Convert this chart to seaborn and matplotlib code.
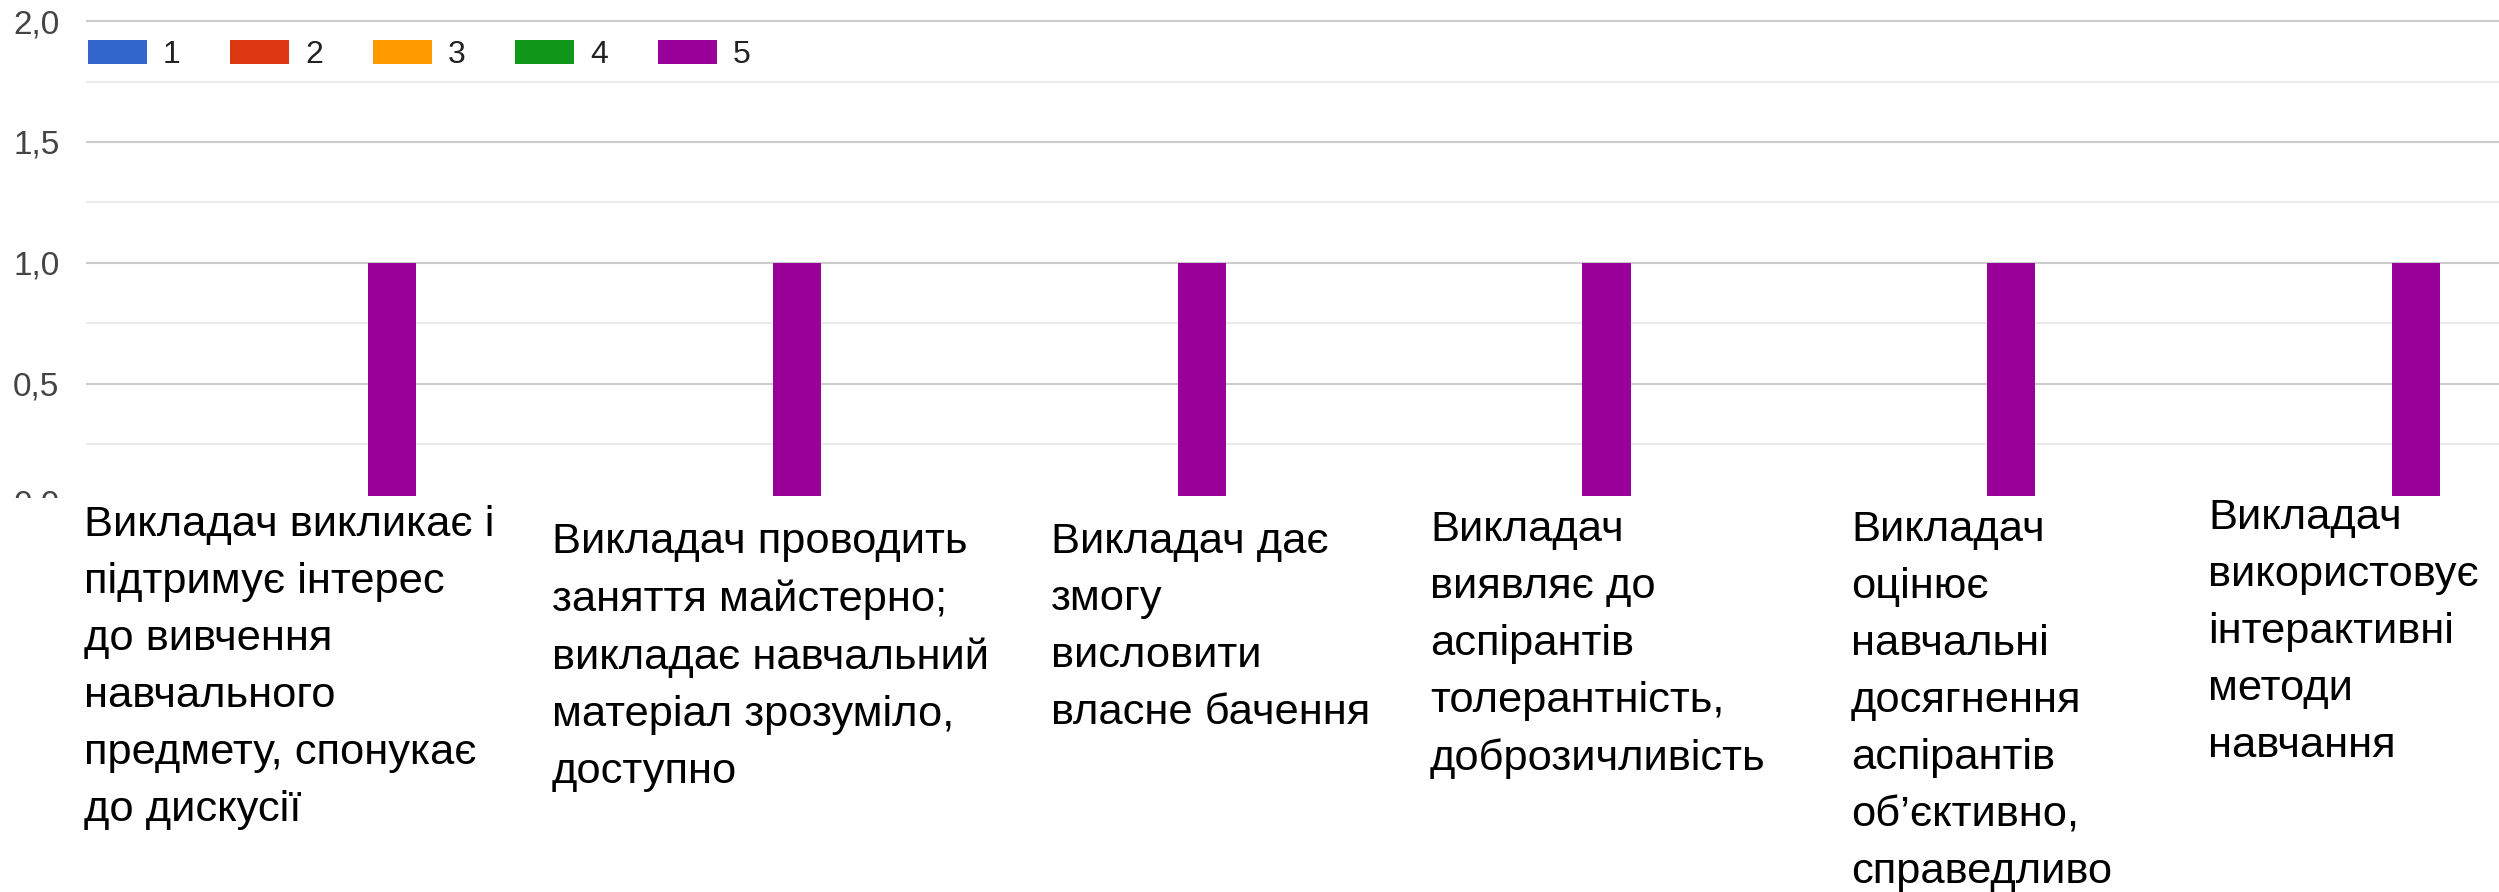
import matplotlib
matplotlib.use("Agg")
import matplotlib.pyplot as plt
import matplotlib.transforms as mtransforms
from matplotlib.patches import Patch
import numpy as np
import pandas as pd
import seaborn as sns

categories = [
    "Викладач викликає і\nпідтримує інтерес\nдо вивчення\nнавчального\nпредмету, спонукає\nдо дискусії",
    "Викладач проводить\nзаняття майстерно;\nвикладає навчальний\nматеріал зрозуміло,\nдоступно",
    "Викладач дає\nзмогу\nвисловити\nвласне бачення",
    "Викладач\nвиявляє до\nаспірантів\nтолерантність,\nдоброзичливість",
    "Викладач\nоцінює\nнавчальні\nдосягнення\nаспірантів\nоб’єктивно,\nсправедливо",
    "Викладач\nвикористовує\nінтерактивні\nметоди\nнавчання",
]
ratings = ["1", "2", "3", "4", "5"]
count_1 = [0, 0, 0, 0, 0, 0]
count_2 = [0, 0, 0, 0, 0, 0]
count_3 = [0, 0, 0, 0, 0, 0]
count_4 = [0, 0, 0, 0, 0, 0]
count_5 = [1, 1, 1, 1, 1, 1]
y_ticks = [0.5, 1.0, 1.5, 2.0]
y_tick_labels = ["0,5", "1,0", "1,5", "2,0"]

palette = ["#3366cc", "#dc3912", "#ff9900", "#109618", "#990099"]

df = pd.DataFrame({
    "category": np.tile(categories, len(ratings)),
    "rating": np.repeat(ratings, len(categories)),
    "count": count_1 + count_2 + count_3 + count_4 + count_5,
})

sns.set_theme(style="white")
plt.rcParams["font.family"] = ["Liberation Sans", "DejaVu Sans"]

W, H = 2499, 892
fig = plt.figure(figsize=(W / 100, H / 100), dpi=100)
ax = fig.add_axes([86 / W, 1 - 496 / H, 1 - 86 / W, (496 - 19) / H])

sns.barplot(
    data=df, x="category", y="count", hue="rating",
    order=categories, hue_order=ratings, palette=palette,
    width=0.593, dodge=True, saturation=1, linewidth=0,
    legend=False, ax=ax,
)

ax.set_xlim(-0.519, 5.442)
ax.set_ylim(0.037, 2.0083)
ax.set_xticks([])
ax.set_xlabel("")
ax.set_ylabel("")
ax.set_yticks(y_ticks, y_tick_labels)
ax.set_yticks([0.25, 0.75, 1.25, 1.75], minor=True)
ax.grid(axis="y", which="major", color="#cccccc", linewidth=1.5)
ax.grid(axis="y", which="minor", color="#ebebeb", linewidth=1.5)
ax.set_axisbelow(True)
ax.tick_params(axis="y", which="both", length=0, pad=19,
               labelsize=24, labelcolor="#444444")
for s in ax.spines.values():
    s.set_visible(False)

# baseline label, partly hidden under the category text area
zero = fig.text(60 / W, 1 - 505 / H, "0,0", ha="right", va="center",
                fontsize=24, color="#444444")
zero.set_clip_box(mtransforms.Bbox.from_extents(0, H - 498, 86, H))
zero.set_clip_on(True)

# legend
handles = [Patch(facecolor=c, edgecolor="none", label=r) for c, r in zip(palette, ratings)]
leg = fig.legend(
    handles=handles, loc="center left", bbox_to_anchor=(88 / W, 1 - 55 / H),
    ncol=5, frameon=False, fontsize=23, handlelength=1.85, handleheight=0.8,
    handletextpad=0.5, columnspacing=1.55, borderpad=0, borderaxespad=0,
)
for t in leg.get_texts():
    t.set_color("#222222")

# category labels under the bars (x offset from category, top edge in px)
label_offsets = [-0.524, -0.368, -0.135, -0.199, -0.159, -0.277]
label_tops = [505, 522, 522, 510, 510, 498]
trans = mtransforms.blended_transform_factory(ax.transData, fig.transFigure)
for i, (cat, off, top) in enumerate(zip(categories, label_offsets, label_tops)):
    ax.text(i + off, 1 - top / H, cat, transform=trans, ha="left", va="top",
            fontsize=31.3, linespacing=1.55, color="black", clip_on=False)

fig.savefig("out.png", dpi=100)
